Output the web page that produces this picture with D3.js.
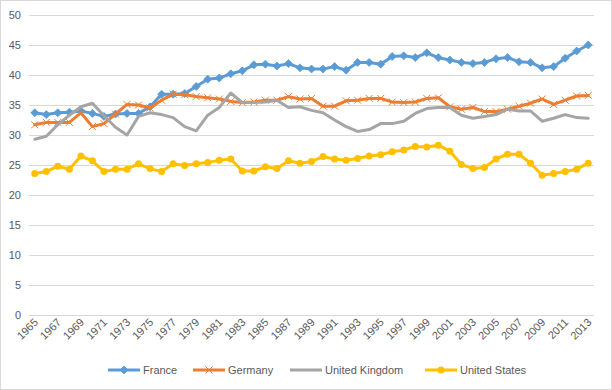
<!doctype html>
<html lang="en">
  <head>
    <meta charset="UTF-8" />
    <title>Tax revenue chart</title>
    <style>
      body {
        margin: 0;
        background: #fff;
      }
      svg {
        display: block;
        font-family: "Liberation Sans", Arial, sans-serif;
      }
    </style>
  </head>
  <body>
    <svg id="chart" width="612" height="390"></svg>

    <script src="https://d3js.org/d3.v7.min.js"></script>
    <script>
      const years = d3.range(1965, 2014);
      const yTicks = [0, 5, 10, 15, 20, 25, 30, 35, 40, 45, 50];
      const seriesNames = ["France", "Germany", "United Kingdom", "United States"];

      const france = [
        33.7, 33.4, 33.7, 33.8, 34.0, 33.6, 33.1, 33.5, 33.6, 33.6,
        34.7, 36.8, 36.8, 36.9, 38.1, 39.3, 39.5, 40.2, 40.7, 41.7,
        41.8, 41.5, 41.9, 41.2, 41.0, 41.0, 41.4, 40.8, 42.1, 42.1,
        41.8, 43.1, 43.2, 42.9, 43.7, 42.9, 42.5, 42.1, 41.9, 42.1,
        42.7, 42.9, 42.2, 42.1, 41.2, 41.4, 42.8, 44.0, 45.0
      ];
      const germany = [
        31.7, 32.1, 32.1, 32.1, 33.7, 31.4, 31.9, 33.5, 35.1, 35.0,
        34.5, 35.8, 36.8, 36.7, 36.4, 36.2, 36.0, 35.6, 35.4, 35.5,
        35.8, 35.8, 36.4, 36.0, 36.1, 34.8, 34.8, 35.7, 35.8, 36.1,
        36.1, 35.5, 35.4, 35.5, 36.1, 36.2, 34.7, 34.3, 34.6, 33.9,
        33.9, 34.3, 34.8, 35.3, 36.0, 35.1, 35.8, 36.5, 36.6
      ];
      const uk = [
        29.3, 29.8, 31.7, 33.3, 34.7, 35.3, 33.2, 31.3, 30.0, 33.1,
        33.7, 33.4, 32.9, 31.4, 30.7, 33.3, 34.6, 37.0, 35.4, 35.4,
        35.5, 35.8, 34.6, 34.7, 34.1, 33.7, 32.5, 31.4, 30.6, 30.9,
        31.9, 31.9, 32.3, 33.6, 34.4, 34.6, 34.6, 33.3, 32.8, 33.1,
        33.4, 34.3, 34.0, 34.0, 32.3, 32.8, 33.4, 32.9, 32.8
      ];
      const us = [
        23.6, 23.9, 24.8, 24.3, 26.5, 25.7, 23.9, 24.3, 24.3, 25.2,
        24.4, 23.9, 25.2, 24.9, 25.2, 25.4, 25.8, 26.0, 24.0, 24.0,
        24.7, 24.4, 25.7, 25.3, 25.6, 26.4, 26.0, 25.8, 26.1, 26.5,
        26.7, 27.2, 27.5, 28.1, 28.0, 28.3, 27.3, 25.1, 24.4, 24.6,
        26.0, 26.8, 26.8, 25.3, 23.3, 23.6, 23.9, 24.3, 25.3
      ];

      const colors = ["#5b9bd5", "#ed7d31", "#a5a5a5", "#ffc000"];
      const markers = ["diamond", "cross", "none", "circle"];
      const values = [france, germany, uk, us];

      const svg = d3.select("#chart");
      const plotLeft = 29,
        plotRight = 594,
        plotTop = 15,
        plotBottom = 315;

      // chart border
      svg
        .append("rect")
        .attr("x", 0.5)
        .attr("y", 0.5)
        .attr("width", 611)
        .attr("height", 389)
        .attr("fill", "#fff")
        .attr("stroke", "#d9d9d9");

      const x = d3.scalePoint().domain(years).range([plotLeft, plotRight]).padding(0.5);
      const y = d3.scaleLinear().domain([0, 50]).range([plotBottom, plotTop]);

      // gridlines
      svg
        .append("g")
        .selectAll("line")
        .data(yTicks)
        .join("line")
        .attr("x1", plotLeft)
        .attr("x2", plotRight)
        .attr("y1", (d) => Math.round(y(d)) + 0.5)
        .attr("y2", (d) => Math.round(y(d)) + 0.5)
        .attr("stroke", "#d9d9d9")
        .attr("stroke-width", 1);

      // y labels
      svg
        .append("g")
        .selectAll("text")
        .data(yTicks)
        .join("text")
        .attr("x", 21)
        .attr("y", (d) => y(d) + 4)
        .attr("text-anchor", "end")
        .attr("font-size", 11)
        .attr("fill", "#595959")
        .text((d) => d);

      // x labels, every other year
      svg
        .append("g")
        .selectAll("text")
        .data(years.filter((d) => (d - 1965) % 2 === 0))
        .join("text")
        .attr("transform", (d) => `translate(${x(d) + 4},${plotBottom + 8}) rotate(-45)`)
        .attr("text-anchor", "end")
        .attr("font-size", 11)
        .attr("fill", "#595959")
        .text((d) => d);

      const line = d3
        .line()
        .x((d, i) => x(years[i]))
        .y((d) => y(d));

      function drawMarker(g, type, color, cx, cy) {
        if (type === "diamond") {
          g.append("path")
            .attr("d", `M${cx},${cy - 4}L${cx + 4},${cy}L${cx},${cy + 4}L${cx - 4},${cy}Z`)
            .attr("fill", color)
            .attr("stroke", color)
            .attr("stroke-width", 0.75);
        } else if (type === "cross") {
          g.append("path")
            .attr("d", `M${cx - 3.5},${cy - 3.5}L${cx + 3.5},${cy + 3.5}M${cx - 3.5},${cy + 3.5}L${cx + 3.5},${cy - 3.5}`)
            .attr("stroke", color)
            .attr("stroke-width", 1);
        } else if (type === "circle") {
          g.append("circle")
            .attr("cx", cx)
            .attr("cy", cy)
            .attr("r", 3.5)
            .attr("fill", color);
        }
      }

      values.forEach((vals, s) => {
        const g = svg.append("g");
        g.append("path")
          .datum(vals)
          .attr("d", line)
          .attr("fill", "none")
          .attr("stroke", colors[s])
          .attr("stroke-width", 3)
          .attr("stroke-linejoin", "round")
          .attr("stroke-linecap", "round");
        vals.forEach((v, i) => drawMarker(g, markers[s], colors[s], x(years[i]), y(v)));
      });

      // legend
      const legendX = [108, 193, 290, 425];
      const legendY = 370;
      const lg = svg.append("g");
      seriesNames.forEach((name, s) => {
        const lx = legendX[s];
        lg.append("line")
          .attr("x1", lx)
          .attr("x2", lx + 32)
          .attr("y1", legendY)
          .attr("y2", legendY)
          .attr("stroke", colors[s])
          .attr("stroke-width", 3);
        drawMarker(lg, markers[s], colors[s], lx + 16, legendY);
        lg.append("text")
          .attr("x", lx + 35)
          .attr("y", legendY + 4)
          .attr("font-size", 11)
          .attr("fill", "#595959")
          .text(name);
      });
    </script>
  </body>
</html>
